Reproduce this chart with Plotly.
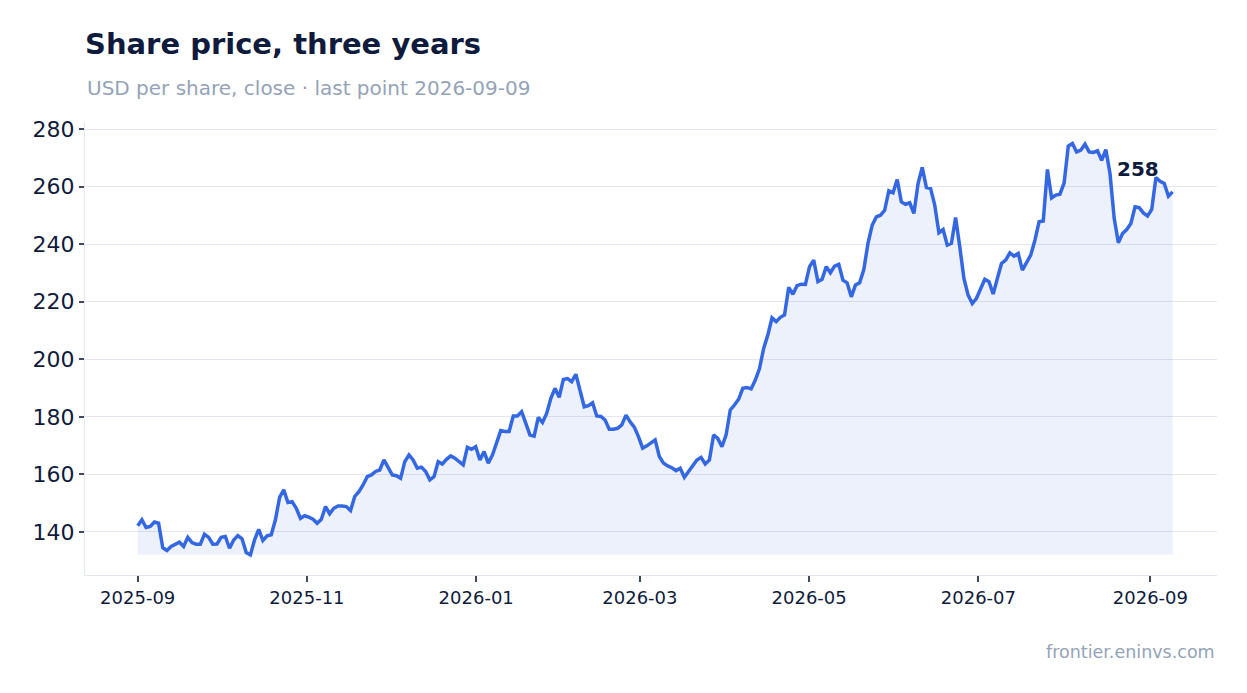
import pandas as pd
import plotly.graph_objects as go

# closing prices (roughly every 1.5 days)
close = [
    142.1, 144.2, 141.5, 141.9, 143.4, 143.0, 134.5, 133.5, 134.9, 135.5,
    136.4, 134.9, 138.1, 136.3, 135.7, 135.7, 139.2, 138.1, 135.7, 135.8,
    138.1, 138.4, 134.3, 137.2, 138.7, 137.6, 132.8, 132.0, 137.2, 140.9,
    137.0, 138.6, 139.0, 144.2, 152.0, 154.6, 150.2, 150.5, 148.2, 144.7,
    145.6, 145.1, 144.4, 143.0, 144.4, 148.8, 146.3, 148.2, 149.0, 149.0,
    148.8, 147.4, 152.3, 154.0, 156.3, 159.2, 159.8, 161.0, 161.5, 165.0,
    162.5, 159.8, 159.5, 158.6, 164.4, 166.7, 165.0, 162.1, 162.5, 161.0,
    158.1, 159.2, 164.4, 163.6, 165.2, 166.4, 165.6, 164.4, 163.3, 169.4,
    168.7, 169.6, 165.0, 167.9, 163.9, 166.7, 171.4, 175.2, 174.9, 174.9,
    180.3, 180.3, 181.8, 177.7, 173.7, 173.3, 179.8, 178.0, 181.2, 186.4,
    189.9, 186.8, 193.0, 193.3, 192.2, 194.8, 189.3, 183.5, 183.9, 184.9,
    180.3, 180.1, 178.9, 175.7, 175.7, 176.0, 177.2, 180.6, 178.3, 176.4,
    173.1, 169.1, 169.9, 170.8, 172.0, 166.2, 163.9, 162.9, 162.3, 161.3,
    162.1, 159.0, 161.0, 162.9, 165.0, 165.9, 163.6, 165.0, 173.7, 172.5,
    169.6, 173.7, 182.4, 184.1, 186.1, 189.9, 190.2, 189.7, 192.8, 196.8,
    203.8, 208.4, 214.4, 213.1, 214.6, 215.4, 225.0, 222.6, 225.6, 226.1,
    226.0, 232.2, 234.5, 227.0, 227.8, 232.2, 230.1, 232.4, 233.0, 227.5,
    226.6, 221.7, 225.8, 226.6, 231.2, 240.3, 246.6, 249.5, 250.1, 251.8,
    258.6, 257.9, 262.5, 254.7, 253.9, 254.4, 250.7, 261.1, 266.7, 259.7,
    259.4, 253.6, 244.0, 245.1, 239.7, 240.3, 249.3, 239.1, 228.0, 222.3,
    219.4, 221.2, 224.6, 227.8, 227.0, 222.7, 228.1, 233.3, 234.5, 237.0,
    235.9, 236.8, 231.0, 233.6, 236.2, 241.4, 247.8, 248.1, 266.0, 256.1,
    257.1, 257.4, 261.3, 274.1, 275.0, 272.1, 272.7, 274.8, 272.1, 271.9,
    272.5, 269.2, 272.9, 264.6, 249.0, 240.5, 243.7, 245.1, 247.2, 253.0,
    252.7, 250.9, 249.8, 252.1, 263.2, 261.9, 261.1, 256.7, 258.2,
]
first_day = "2025-09-01"
last_day = "2026-09-09"
dates = pd.date_range(first_day, last_day, periods=len(close))

LINE = "#3468e3"
NAVY = "#0f1b3d"
GREY = "#94a3b8"
GRID = "#e2e7f0"
TICK = "#3f4a5e"
FONT = "DejaVu Sans"

W, H = 1239, 685  # page adds an 8px body margin

fig = go.Figure()

# invisible baseline at the lowest close, so the area is filled down to it
fig.add_trace(go.Scatter(x=dates, y=[min(close)] * len(close), mode="lines",
                         line=dict(width=0), hoverinfo="skip", showlegend=False))
fig.add_trace(go.Scatter(x=dates, y=close, mode="lines", fill="tonexty",
                         fillcolor="rgba(52,104,227,0.09)",
                         line=dict(color=LINE, width=3.5), showlegend=False))

fig.add_annotation(x=dates[-1], y=close[-1], text="<b>%d</b>" % round(close[-1]),
                   showarrow=False, xanchor="right", yanchor="bottom",
                   xshift=-12, yshift=9, font=dict(size=20, color=NAVY, family=FONT))
fig.add_annotation(xref="paper", yref="paper", x=0, y=1.075,
                   text="USD per share, close · last point " + last_day,
                   showarrow=False, xanchor="left", yanchor="middle",
                   font=dict(size=20, color=GREY, family=FONT))
fig.add_annotation(xref="paper", yref="paper", x=1, y=-0.17,
                   text="frontier.eninvs.com", showarrow=False,
                   xanchor="right", yanchor="middle",
                   font=dict(size=17.5, color=GREY, family=FONT))

fig.update_layout(
    width=W, height=H,
    paper_bgcolor="white", plot_bgcolor="white",
    margin=dict(l=77, r=30, t=114, b=118),
    font=dict(family=FONT, color=NAVY),
    title=dict(text="<b>Share price, three years</b>", xref="container",
               x=77 / W, xanchor="left", y=1 - 36 / H, yanchor="middle",
               font=dict(size=29, color=NAVY, family=FONT)),
)
fig.update_xaxes(range=["2025-08-13", "2026-09-25"], tick0="2025-09-01", dtick="M2",
                 tickformat="%Y-%m", showgrid=False, showline=True, linecolor=GRID,
                 ticks="outside", ticklen=6, tickwidth=1.5, tickcolor=TICK,
                 tickfont=dict(size=18, color=NAVY))
fig.update_yaxes(range=[125, 282.5], dtick=20, showgrid=True, gridcolor=GRID,
                 showline=True, linecolor=GRID, zeroline=False,
                 ticks="outside", ticklen=5, tickwidth=1.5, tickcolor=TICK,
                 tickfont=dict(size=22, color=NAVY))

fig.write_html("out.html")
